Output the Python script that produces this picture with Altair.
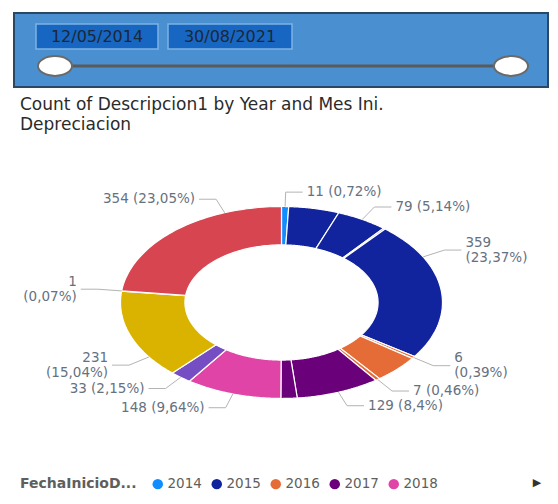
import altair as alt
import pandas as pd

# ---------------- data ----------------
years = ["2014", "2015", "2015", "2015", "2015", "2016", "2016", "2016",
         "2017", "2017", "2018", "2019", "2020", "2021", "2021"]
counts = [11, 78, 79, 3, 359, 6, 72, 7, 129, 25, 148, 33, 231, 1, 354]
show_label = [1, 0, 1, 0, 1, 1, 0, 1, 1, 0, 1, 1, 1, 1, 1]
year_domain = ["2014", "2015", "2016", "2017", "2018", "2019", "2020", "2021"]
legend_years = ["2014", "2015", "2016", "2017", "2018"]
date_range = ["12/05/2014", "30/08/2021"]
title_text = "Count of Descripcion1 by Year and Mes Ini.\nDepreciacion"
legend_title = "FechaInicioD..."

# ---------------- styling ----------------
palette = ["#118DFF", "#12239E", "#E66C37", "#6B007B",
           "#E044A7", "#744EC2", "#D9B300", "#D64550"]
wrap_label = [0, 0, 0, 0, 1, 1, 0, 0, 0, 0, 0, 0, 1, 1, 0]
leader_shift_deg = [0, 0, 0, 0, -20.5, 0, 0, 0, 0, 0, 0, 0, -14.3, 0, 20.8]
FONT = "DejaVu Sans"
LABEL_COLOR = "#66717f"
LINE_H = 15
N = 60

total = sum(counts)


def pct(v):
    s = f"{round(v / total * 100, 2):.2f}".rstrip("0").rstrip(".")
    return s.replace(".", ",")


labels = []
for v, s, w in zip(counts, show_label, wrap_label):
    if not s:
        labels.append("")
    elif w:
        labels.append(f"{v}\n({pct(v)}%)")
    else:
        labels.append(f"{v} ({pct(v)}%)")

df = pd.DataFrame({
    "idx": list(range(len(counts))),
    "year": years,
    "count": counts,
    "show": show_label,
    "label": labels,
    "shift": leader_shift_deg,
})

xs = alt.Scale(domain=[-1.699, 1.668], nice=False, zero=False)
ys = alt.Scale(domain=[-2.016, 3.068], nice=False, zero=False)
color_scale = alt.Scale(domain=year_domain, range=palette)

base = alt.Chart(df).transform_window(
    cum="sum(count)", sort=[alt.SortField("idx")], frame=[None, 0]
).transform_joinaggregate(
    total="sum(count)"
).transform_calculate(
    a0="(datum.cum - datum.count) / datum.total * 2 * PI",
    a1="datum.cum / datum.total * 2 * PI",
)

donut = base.transform_calculate(
    steps=f"sequence(0, {2 * N + 2})"
).transform_flatten(["steps"]).transform_calculate(
    t=f"datum.steps <= {N} ? datum.steps / {N} : ({2 * N + 1} - datum.steps) / {N}",
    rr=f"datum.steps <= {N} ? 1 : 0.6",
).transform_calculate(
    ang="datum.a0 + datum.t * (datum.a1 - datum.a0)"
).transform_calculate(
    px="datum.rr * sin(datum.ang)",
    py="datum.rr * cos(datum.ang)",
).mark_line(stroke="white", strokeWidth=1.2, interpolate="linear-closed").encode(
    x=alt.X("px:Q", scale=xs, axis=None),
    y=alt.Y("py:Q", scale=ys, axis=None),
    fill=alt.Fill("year:N", scale=color_scale, legend=alt.Legend(
        values=legend_years, orient="none", legendX=12, legendY=469,
        direction="horizontal", title=legend_title, titleOrient="left",
        titleFont=FONT, titleFontSize=14, titleFontWeight="bold",
        titleColor="#605E5C", titleLimit=300, titlePadding=14,
        labelFont=FONT, labelFontSize=13.5, labelColor="#605E5C",
        symbolType="circle", symbolSize=110, symbolStrokeWidth=0,
        symbolOpacity=1, columnPadding=8, labelOffset=3,
    )),
    detail="idx:N",
    order="steps:Q",
)

lab = base.transform_filter("datum.show == 1").transform_calculate(
    mid="(datum.a0 + datum.a1) / 2 + datum.shift * PI / 180",
    nlines="length(split(datum.label, '\\n'))",
).transform_calculate(
    sx="sin(datum.mid)", cy="cos(datum.mid)"
).transform_calculate(
    side="datum.sx >= 0 ? 1 : -1",
    x0="datum.sx * 1.0", y0="datum.cy * 1.0",
    xe="datum.sx * 1.15", ye="datum.cy * 1.15",
).transform_calculate(
    xh=f"datum.xe + datum.side * 17 / 161",
    ty=f"datum.ye + (datum.nlines - 1) * {LINE_H / 2} / 96",
)

rule1 = lab.mark_rule(color="#b3b3b3", strokeWidth=1).encode(
    x=alt.X("x0:Q", scale=xs, axis=None), y=alt.Y("y0:Q", scale=ys, axis=None),
    x2="xe:Q", y2="ye:Q",
)
rule2 = lab.mark_rule(color="#b3b3b3", strokeWidth=1).encode(
    x=alt.X("xe:Q", scale=xs, axis=None), y=alt.Y("ye:Q", scale=ys, axis=None),
    x2="xh:Q", y2="ye:Q",
)
text_r = lab.transform_filter("datum.side > 0").mark_text(
    align="left", baseline="middle", dx=4, font=FONT, fontSize=13.5,
    color=LABEL_COLOR, lineBreak="\n", lineHeight=LINE_H,
).encode(
    x=alt.X("xh:Q", scale=xs, axis=None), y=alt.Y("ty:Q", scale=ys, axis=None),
    text="label:N",
)
text_l = lab.transform_filter("datum.side < 0").mark_text(
    align="right", baseline="middle", dx=-4, font=FONT, fontSize=13.5,
    color=LABEL_COLOR, lineBreak="\n", lineHeight=LINE_H,
).encode(
    x=alt.X("xh:Q", scale=xs, axis=None), y=alt.Y("ty:Q", scale=ys, axis=None),
    text="label:N",
)

one = alt.Chart(pd.DataFrame({"d": [0]}))

slicer_bg = one.mark_rect(fill="#4A8FD0", stroke="#2B4766", strokeWidth=2).encode(
    x=alt.value(6), x2=alt.value(540), y=alt.value(5), y2=alt.value(79))
box1 = one.mark_rect(fill="#1766C2", stroke="#7EB2E4", strokeWidth=1.5).encode(
    x=alt.value(28), x2=alt.value(150), y=alt.value(16), y2=alt.value(41))
box2 = one.mark_rect(fill="#1766C2", stroke="#7EB2E4", strokeWidth=1.5).encode(
    x=alt.value(160), x2=alt.value(284), y=alt.value(16), y2=alt.value(41))
date1 = one.mark_text(text=date_range[0], font=FONT, fontSize=16, color="#1B2838",
                      align="center", baseline="middle").encode(
    x=alt.value(89), y=alt.value(29))
date2 = one.mark_text(text=date_range[1], font=FONT, fontSize=16, color="#1B2838",
                      align="center", baseline="middle").encode(
    x=alt.value(222), y=alt.value(29))
track = one.mark_rule(color="#5a5a5a", strokeWidth=3).encode(
    x=alt.value(47), x2=alt.value(503), y=alt.value(58))
ellipse = "M-1,0 A1,0.58 0 1,0 1,0 A1,0.58 0 1,0 -1,0 Z"
h1 = one.mark_point(shape=ellipse, size=1160, filled=True, fill="white",
                    stroke="#6a6a6a", strokeWidth=2, opacity=1).encode(
    x=alt.value(47), y=alt.value(58))
h2 = one.mark_point(shape=ellipse, size=1160, filled=True, fill="white",
                    stroke="#6a6a6a", strokeWidth=2, opacity=1).encode(
    x=alt.value(503), y=alt.value(58))

title = one.mark_text(text=title_text, font=FONT, fontSize=17, color="#2b2b2b",
                      align="left", baseline="middle", lineBreak="\n", lineHeight=20).encode(
    x=alt.value(12), y=alt.value(97))
arrow = one.mark_text(text="▶", font=FONT, fontSize=11, color="#333333",
                      align="center", baseline="middle").encode(
    x=alt.value(529), y=alt.value(475))

chart = alt.layer(
    slicer_bg, box1, box2, date1, date2, track, h1, h2, title,
    donut, rule1, rule2, text_r, text_l, arrow,
).properties(
    width=542, height=488,
    autosize=alt.AutoSizeParams(type="none"),
    padding=0,
).configure_view(stroke=None)

chart.save("out.html", embed_options={"renderer": "svg", "actions": False})
